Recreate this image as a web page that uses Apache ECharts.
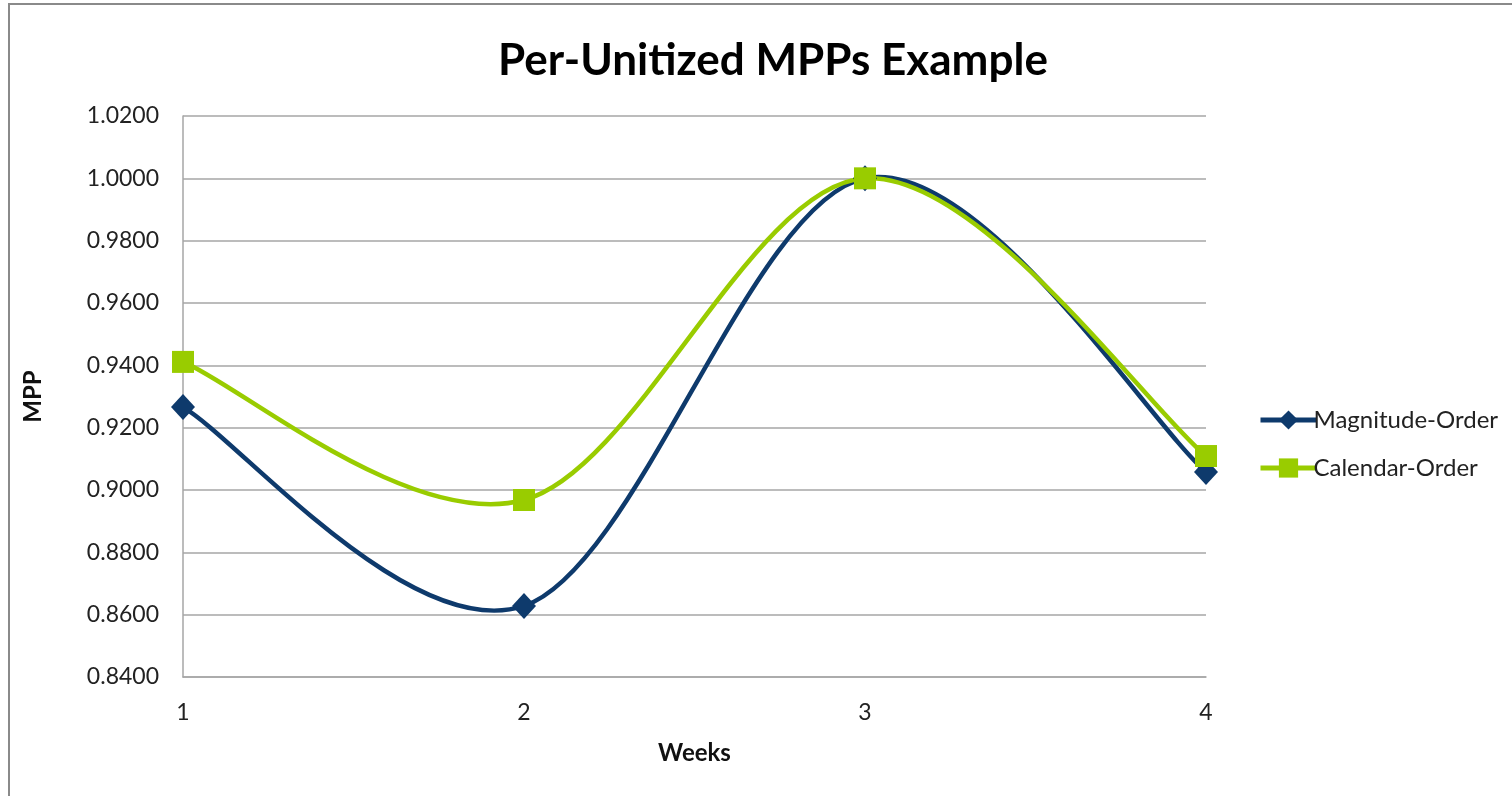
<!DOCTYPE html>
<html>
<head>
<meta charset="utf-8">
<script src="https://cdn.jsdelivr.net/npm/echarts@6/dist/echarts.min.js"></script>
<style>
  html, body { margin: 0; padding: 0; background: #fff; }
  #chart { width: 1512px; height: 796px; }
</style>
</head>
<body>
<div id="chart"></div>
<script>
// Week numbers along the x axis
const weeks = ['1', '2', '3', '4'];
// Per-unitized MPP values for each ordering
const magnitudeOrder = [0.9266, 0.8628, 1.0000, 0.9058];
const calendarOrder = [0.9411, 0.8968, 1.0000, 0.9109];

const navy = '#0E3A6C';
const lime = '#99CC00';
const font = 'Lato, "Open Sans", sans-serif';

// Smooth curve through the points: Catmull-Rom segments as cubic Beziers,
// computed in pixel space from the axis coordinates.
function smoothCurve(values, color) {
  return function (params, api) {
    const i = params.dataIndex;
    if (i >= values.length - 1) return null;
    const p = values.map((v, k) => api.coord([k, v]));
    const p0 = p[Math.max(i - 1, 0)];
    const p1 = p[i];
    const p2 = p[i + 1];
    const p3 = p[Math.min(i + 2, p.length - 1)];
    return {
      type: 'bezierCurve',
      shape: {
        x1: p1[0], y1: p1[1],
        x2: p2[0], y2: p2[1],
        cpx1: p1[0] + (p2[0] - p0[0]) / 6,
        cpy1: p1[1] + (p2[1] - p0[1]) / 6,
        cpx2: p2[0] - (p3[0] - p1[0]) / 6,
        cpy2: p2[1] - (p3[1] - p1[1]) / 6
      },
      style: { stroke: color, lineWidth: 4.5, fill: null, lineCap: 'round' },
      silent: true
    };
  };
}

const chart = echarts.init(document.getElementById('chart'));
chart.setOption({
  backgroundColor: '#ffffff',
  animation: false,
  graphic: [{
    type: 'rect',
    shape: { x: 9, y: 4, width: 1700, height: 1000 },
    style: { fill: 'none', stroke: '#8a8a8a', lineWidth: 2 },
    silent: true
  }],
  title: {
    text: 'Per-Unitized MPPs Example',
    left: 768,
    textAlign: 'center',
    top: 34,
    textStyle: { fontFamily: font, fontSize: 44, fontWeight: 'bold', color: '#000' }
  },
  legend: {
    orient: 'vertical',
    left: 1253,
    top: 403,
    itemGap: 24,
    itemWidth: 56,
    itemHeight: 24,
    textStyle: { fontFamily: font, fontSize: 24, color: '#222', padding: [0, 0, 0, -8] },
    data: [
      { name: 'Magnitude-Order', lineStyle: { color: navy, width: 5, opacity: 1 } },
      { name: 'Calendar-Order', lineStyle: { color: lime, width: 5, opacity: 1 } }
    ]
  },
  grid: { left: 183, right: 306, top: 116, bottom: 119 },
  xAxis: {
    type: 'category',
    data: weeks,
    boundaryGap: false,
    name: 'Weeks',
    nameLocation: 'middle',
    nameGap: 64,
    nameTextStyle: { fontFamily: font, fontSize: 24, fontWeight: 'bold', color: '#111' },
    axisLine: { show: true, lineStyle: { color: '#a6a6a6', width: 1.5 } },
    axisTick: { show: false },
    axisLabel: { fontFamily: font, fontSize: 23, color: '#222', margin: 24 },
    splitLine: { show: false }
  },
  yAxis: {
    type: 'value',
    min: 0.84,
    max: 1.02,
    interval: 0.02,
    name: 'MPP',
    nameLocation: 'middle',
    nameGap: 138,
    nameRotate: 90,
    nameTextStyle: { fontFamily: font, fontSize: 24, fontWeight: 'bold', color: '#111' },
    axisLine: { show: true, lineStyle: { color: '#a6a6a6', width: 1.5 } },
    axisTick: { show: false },
    axisLabel: {
      fontFamily: font, fontSize: 23, color: '#222', margin: 24,
      formatter: v => v.toFixed(4)
    },
    splitLine: { show: true, lineStyle: { color: '#a6a6a6', width: 1.5 } }
  },
  series: [
    {
      name: 'magnitude-curve',
      type: 'custom',
      data: magnitudeOrder.map((v, k) => [k, v]),
      renderItem: smoothCurve(magnitudeOrder, navy),
      z: 1
    },
    {
      name: 'calendar-curve',
      type: 'custom',
      data: calendarOrder.map((v, k) => [k, v]),
      renderItem: smoothCurve(calendarOrder, lime),
      z: 2
    },
    {
      name: 'Magnitude-Order',
      type: 'line',
      data: magnitudeOrder,
      symbol: 'diamond',
      symbolSize: [24, 26],
      lineStyle: { color: navy, width: 5, opacity: 0 },
      itemStyle: { color: navy },
      z: 3
    },
    {
      name: 'Calendar-Order',
      type: 'line',
      data: calendarOrder,
      symbol: 'rect',
      symbolSize: 22,
      lineStyle: { color: lime, width: 5, opacity: 0 },
      itemStyle: { color: lime },
      z: 4
    }
  ]
});
</script>
</body>
</html>
